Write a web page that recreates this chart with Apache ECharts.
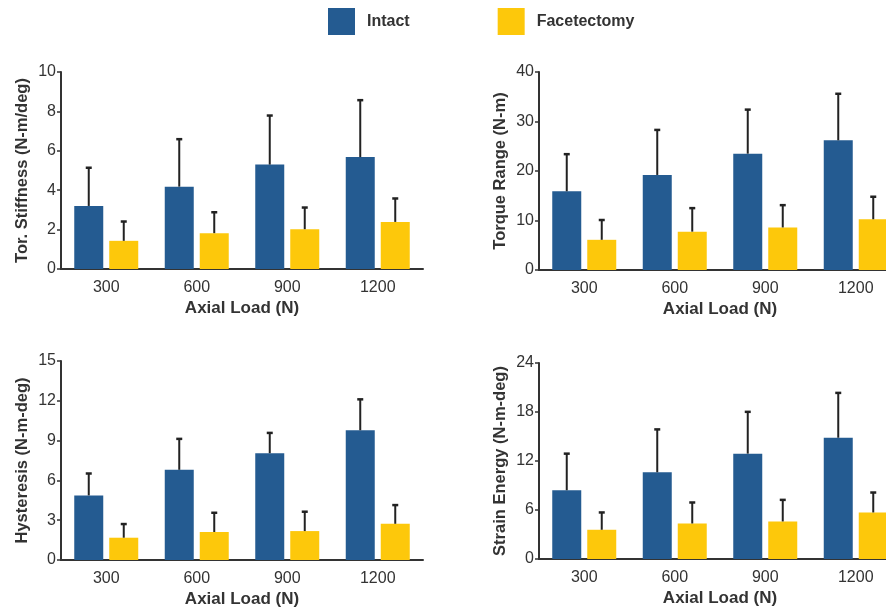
<!DOCTYPE html>
<html lang="en">
<head>
    <meta charset="UTF-8">
    <title>Axial load bar charts</title>
    <style>
        body {margin: 0; background: #fff; overflow: hidden;}
        /* right panels run past the window edge in the source figure */
        #chart {width: 910px; height: 610px;}
    </style>
</head>
<body>
    <div id="chart"></div>

    <script src="https://cdn.jsdelivr.net/npm/echarts/dist/echarts.min.js"></script>
    <script>

// categories
const loads = ['300', '600', '900', '1200'];

// Tor. Stiffness (N-m/deg)
const stiffIntact = [3.2, 4.18, 5.3, 5.68];
const stiffIntactSd = [1.94, 2.41, 2.49, 2.89];
const stiffFacet = [1.43, 1.82, 2.02, 2.39];
const stiffFacetSd = [0.98, 1.06, 1.1, 1.19];

// Torque Range (N-m)
const torqueIntact = [15.9, 19.2, 23.5, 26.2];
const torqueIntactSd = [7.5, 9.1, 8.9, 9.4];
const torqueFacet = [6.1, 7.75, 8.6, 10.25];
const torqueFacetSd = [4.0, 4.75, 4.5, 4.55];

// Hysteresis (N-m-deg)
const hystIntact = [4.87, 6.8, 8.05, 9.78];
const hystIntactSd = [1.65, 2.33, 1.53, 2.33];
const hystFacet = [1.68, 2.11, 2.18, 2.73];
const hystFacetSd = [1.03, 1.45, 1.46, 1.41];

// Strain Energy (N-m-deg)
const strainIntact = [8.42, 10.62, 12.9, 14.85];
const strainIntactSd = [4.48, 5.25, 5.12, 5.49];
const strainFacet = [3.58, 4.35, 4.6, 5.7];
const strainFacetSd = [2.12, 2.57, 2.64, 2.44];

const blue = '#245b91';
const yellow = '#fdc80b';
const ink = '#333';

const BAR_W = 29;
const BAR_GAP = 6;

const chart = echarts.init(document.getElementById('chart'));

// 패널 설정
const panels = [
    { name: 'Tor. Stiffness (N-m/deg)', max: 10, interval: 2, intact: stiffIntact, intactSd: stiffIntactSd, facet: stiffFacet, facetSd: stiffFacetSd,
      grid: { left: 61, top: 72, width: 362, height: 197 } },
    { name: 'Torque Range (N-m)', max: 40, interval: 10, intact: torqueIntact, intactSd: torqueIntactSd, facet: torqueFacet, facetSd: torqueFacetSd,
      grid: { left: 539, top: 72, width: 362, height: 198 } },
    { name: 'Hysteresis (N-m-deg)', max: 15, interval: 3, intact: hystIntact, intactSd: hystIntactSd, facet: hystFacet, facetSd: hystFacetSd,
      grid: { left: 61, top: 361, width: 362, height: 199 } },
    { name: 'Strain Energy (N-m-deg)', max: 24, interval: 6, intact: strainIntact, intactSd: strainIntactSd, facet: strainFacet, facetSd: strainFacetSd,
      grid: { left: 539, top: 363, width: 362, height: 196 } }
];

function errorBars(shift) {
    return function (params, api) {
        const x = api.value(0);
        const base = api.coord([x, api.value(1)]);
        const top = api.coord([x, api.value(1) + api.value(2)]);
        const cx = base[0] + shift;
        return {
            type: 'group',
            children: [
                { type: 'line', shape: { x1: cx, y1: base[1], x2: cx, y2: top[1] },
                  style: { stroke: '#222', lineWidth: 2 } },
                { type: 'line', shape: { x1: cx - 3, y1: top[1], x2: cx + 3, y2: top[1] },
                  style: { stroke: '#222', lineWidth: 2.5 } }
            ]
        };
    };
}

const grids = [], xAxes = [], yAxes = [], series = [];

panels.forEach(function (p, i) {
    grids.push(p.grid);
    xAxes.push({
        type: 'category', gridIndex: i, data: loads,
        name: 'Axial Load (N)', nameLocation: 'middle', nameGap: 31,
        nameTextStyle: { fontSize: 17, fontWeight: 'bold', color: ink, fontFamily: 'Liberation Sans' },
        axisLine: { lineStyle: { color: ink, width: 2 } },
        axisTick: { show: false },
        axisLabel: { fontSize: 16, color: ink, margin: 11, fontFamily: 'Liberation Sans' }
    });
    yAxes.push({
        type: 'value', gridIndex: i, min: 0, max: p.max, interval: p.interval,
        name: p.name, nameLocation: 'middle', nameGap: 30,
        nameTextStyle: { fontSize: 16.5, fontWeight: 'bold', color: ink, fontFamily: 'Liberation Sans' },
        axisLine: { show: true, lineStyle: { color: ink, width: 2 } },
        axisTick: { show: true, length: 4, lineStyle: { color: ink, width: 1.5 } },
        splitLine: { show: false },
        axisLabel: { fontSize: 16, color: ink, margin: 5, fontFamily: 'Liberation Sans' }
    });

    series.push({
        name: 'Intact', type: 'bar', xAxisIndex: i, yAxisIndex: i,
        barWidth: BAR_W, barGap: (BAR_GAP / BAR_W * 100) + '%',
        itemStyle: { color: blue }, data: p.intact
    });
    series.push({
        name: 'Facetectomy', type: 'bar', xAxisIndex: i, yAxisIndex: i,
        barWidth: BAR_W, barGap: (BAR_GAP / BAR_W * 100) + '%',
        itemStyle: { color: yellow }, data: p.facet
    });
    series.push({
        type: 'custom', xAxisIndex: i, yAxisIndex: i, z: 5,
        renderItem: errorBars(-(BAR_W + BAR_GAP) / 2),
        data: p.intact.map(function (v, k) { return [k, v, p.intactSd[k]]; })
    });
    series.push({
        type: 'custom', xAxisIndex: i, yAxisIndex: i, z: 5,
        renderItem: errorBars((BAR_W + BAR_GAP) / 2),
        data: p.facet.map(function (v, k) { return [k, v, p.facetSd[k]]; })
    });
});

chart.setOption({
    animation: false,
    textStyle: { fontFamily: 'Liberation Sans' },
    legend: {
        data: ['Intact', 'Facetectomy'],
        left: 323, top: 3,
        itemWidth: 27, itemHeight: 27, itemGap: 88,
        icon: 'rect',
        textStyle: { fontSize: 16, fontWeight: 'bold', color: ink, padding: [0, 0, 0, 7] }
    },
    grid: grids,
    xAxis: xAxes,
    yAxis: yAxes,
    series: series
});
    </script>
</body>
</html>
